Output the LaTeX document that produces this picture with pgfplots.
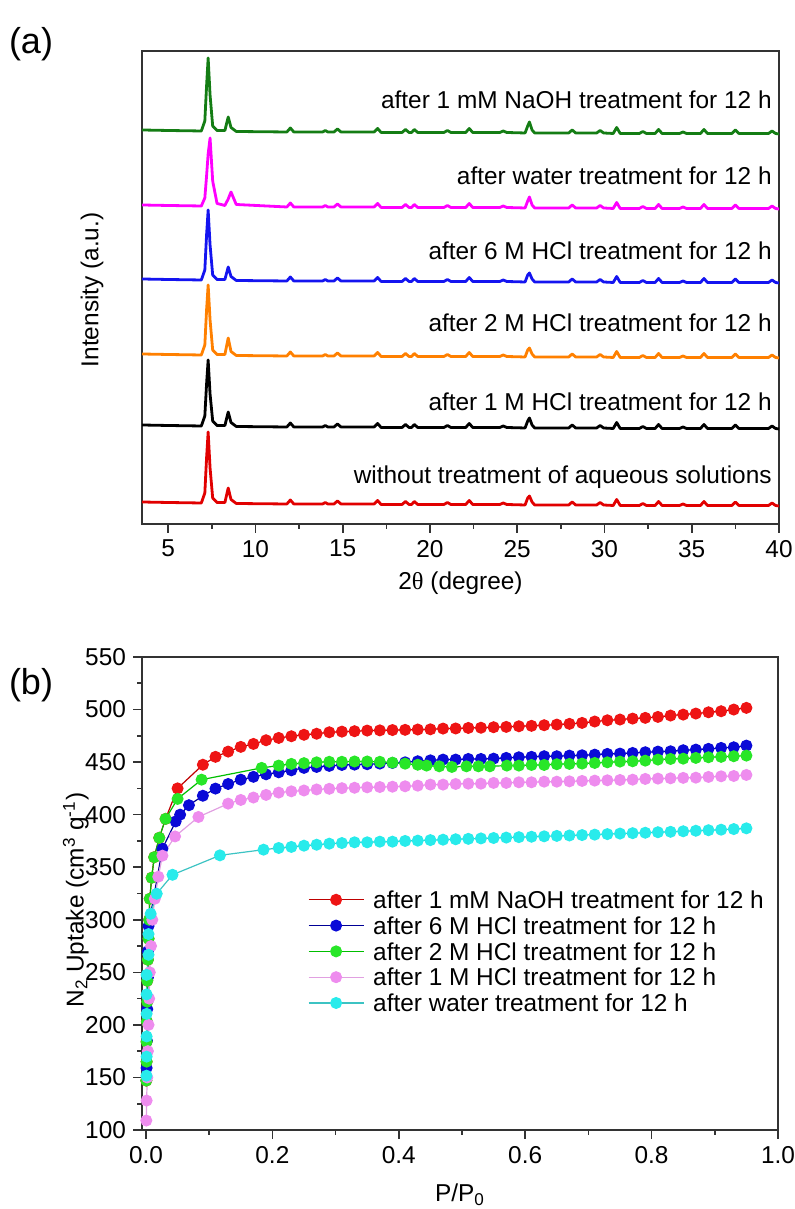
\documentclass[border=0pt]{standalone}
\usepackage{fontspec}
\setmainfont{Liberation Sans}
\newfontfamily\serifgreek{Liberation Serif}
\usepackage{pgfplots}
\usepackage{pgfplotstable}
\pgfplotsset{compat=1.18}

\definecolor{xred}{RGB}{225,0,0}
\definecolor{xorange}{RGB}{255,128,0}
\definecolor{xblue}{RGB}{20,20,240}
\definecolor{xmag}{RGB}{255,0,255}
\definecolor{xgreen}{RGB}{20,125,20}

\definecolor{mred}{RGB}{238,20,20}
\definecolor{lred}{RGB}{190,0,0}
\definecolor{mblue}{RGB}{10,10,215}
\definecolor{lblue}{RGB}{0,0,150}
\definecolor{mgreen}{RGB}{40,230,40}
\definecolor{lgreen}{RGB}{0,190,0}
\definecolor{mviol}{RGB}{238,140,238}
\definecolor{lviol}{RGB}{225,160,225}
\definecolor{mcyan}{RGB}{40,235,235}
\definecolor{lcyan}{RGB}{60,195,195}

% XRD patterns (offset intensities)
\pgfplotstableread{
x r k o b m g
3.5 22 99 170 245 319 394
5.0 21.5 98.5 169.5 244.5 318.5 393.5
6.9 21 98 169 244 318 393
7.1 31 108 179 254 326 403
7.2 66 140 214 289 348 438
7.29 92 164 239 314 370 466
7.4 56 130 204 279 386 429
7.55 26 103 174 249 343 398
7.8 21.5 98.5 169.5 244.5 320.5 393.5
8.25 21.5 98.5 169.5 244.5 318.5 393.5
8.44 36 112 186 257 325 407
8.6 24.5 101.5 172.5 247.5 332 396.5
8.9 20.5 97.5 168.5 243.5 319.5 392.5
11.8 20 97 168 243 317 392
12.0 24 101 172 247 321 396
12.2 20 97 168 243 317 392
13.85 20 97 168 243 317 392
14.0 21.5 98.5 169.5 244.5 318.5 393.5
14.15 20 97 168 243 317 392
14.5 20 97 168 243 317 392
14.7 23 100 171 246 320 395
14.9 20 97 168 243 317 392
16.8 20 97 168 243 317 392
17.0 23.5 100.5 171.5 246.5 320.5 395.5
17.2 19.5 96.5 167.5 242.5 316.5 391.5
18.4 19.5 96.5 167.5 242.5 316.5 391.5
18.6 22.5 99.5 170.5 245.5 319.5 394.5
18.8 19.5 96.5 167.5 242.5 316.5 391.5
18.95 19.5 96.5 167.5 242.5 316.5 391.5
19.1 22.5 99.5 170.5 245.5 319.5 394.5
19.3 19.5 96.5 167.5 242.5 316.5 391.5
20.8 19.5 96.5 167.5 242.5 316.5 391.5
21.0 21.5 98.5 169.5 244.5 318.5 393.5
21.2 19.5 96.5 167.5 242.5 316.5 391.5
22.05 19.5 96.5 167.5 242.5 316.5 391.5
22.25 23.5 100.5 171.5 246.5 320.5 395.5
22.45 19.5 96.5 167.5 242.5 316.5 391.5
24.0 19.5 96.5 167.5 242.5 316.5 391.5
24.2 21 98 169 244 318 393
24.4 19.5 96.5 167.5 242.5 316.5 391.5
25.45 19 96 167 242 316 391
25.6 26 103 174 249 323 398
25.7 28 106 176 251 327 402
25.85 22 99 170 245 319 394
26.0 19 96 167 242 316 391
27.95 19 96 167 242 316 391
28.15 22 99 170 245 319 394
28.35 19 96 167 242 316 391
29.55 19 96 167 242 316 391
29.75 21.5 98.5 169.5 244.5 318.5 393.5
29.95 19 96 167 242 316 391
30.5 18.5 95.5 166.5 241.5 315.5 390.5
30.7 24.5 101.5 172.5 247.5 321.5 396.5
30.9 18.5 95.5 166.5 241.5 315.5 390.5
32.0 18.5 95.5 166.5 241.5 315.5 390.5
32.2 20.5 97.5 168.5 243.5 317.5 392.5
32.4 18.5 95.5 166.5 241.5 315.5 390.5
32.9 18.5 95.5 166.5 241.5 315.5 390.5
33.1 22.5 99.5 170.5 245.5 319.5 394.5
33.3 18.5 95.5 166.5 241.5 315.5 390.5
34.3 18.5 95.5 166.5 241.5 315.5 390.5
34.5 20 97 168 243 317 392
34.7 18.5 95.5 166.5 241.5 315.5 390.5
35.5 18.5 95.5 166.5 241.5 315.5 390.5
35.7 22.5 99.5 170.5 245.5 319.5 394.5
35.9 18.5 95.5 166.5 241.5 315.5 390.5
37.3 18.5 95.5 166.5 241.5 315.5 390.5
37.5 22 99 170 245 319 394
37.7 18.5 95.5 166.5 241.5 315.5 390.5
39.4 18.5 95.5 166.5 241.5 315.5 390.5
39.6 21 98 169 244 318 393
39.8 18.5 95.5 166.5 241.5 315.5 390.5
40.0 18 95 166 241 315 390
}\xrd

% N2 isotherms
\pgfplotstableread{
x y
0.0005 147
0.001 165
0.001 184
0.0015 203
0.002 222
0.002 242
0.003 262
0.004 282
0.005 300
0.006 320
0.009 340
0.013 359.5
0.021 378
0.031 396
0.05 425
0.09 447.5
0.11 455
0.13 460
0.15 464.5
0.17 467.3
0.19 470.8
0.21 473
0.23 474.6
0.25 476
0.27 477
0.29 478.4
0.31 479
0.33 479.4
0.35 480
0.37 480.2
0.39 480.5
0.41 480.7
0.43 481
0.45 481.2
0.47 481.9
0.49 482
0.51 482.5
0.53 482.7
0.55 483.2
0.57 483.5
0.59 484.1
0.61 484.5
0.63 485.1
0.65 485.7
0.67 486.4
0.69 487.3
0.71 488.6
0.73 489.8
0.75 490.5
0.77 491.4
0.79 492.1
0.81 493.0
0.83 494.3
0.85 495.2
0.87 496.2
0.89 497.4
0.91 498.4
0.93 500
0.95 501.6
}\isoR

\pgfplotstableread{
x y
0.001 159
0.0015 185
0.002 215
0.003 245
0.003 270
0.004 294
0.026 367.6
0.047 393.6
0.054 400
0.068 409
0.09 418
0.11 424.8
0.13 429.2
0.15 433.3
0.17 436
0.19 438.4
0.21 440.3
0.23 442.2
0.25 444.5
0.27 445.4
0.29 446.4
0.31 447.3
0.33 447.6
0.35 448
0.37 448.6
0.39 449.2
0.41 449.8
0.43 450.8
0.45 451.7
0.47 452.4
0.49 452.4
0.51 453
0.53 453
0.55 453.3
0.57 454
0.59 454.6
0.61 455
0.63 455.6
0.65 455.6
0.67 456.2
0.69 456.5
0.71 457.1
0.73 457.8
0.75 458.1
0.77 458.7
0.79 459.4
0.81 460
0.83 460.3
0.85 461.3
0.87 461.9
0.89 462.6
0.91 463.5
0.93 464.1
0.95 465.7
}\isoB

\pgfplotstableread{
x y
0.0005 147
0.001 165
0.001 184
0.0015 203
0.002 222
0.002 242
0.003 262
0.004 282
0.005 300
0.006 320
0.009 340
0.013 359.5
0.021 378
0.031 396
0.05 415
0.088 433.3
0.183 444.5
0.21 446.7
0.23 448.3
0.25 449
0.27 449.8
0.29 450.3
0.31 450.3
0.33 450.6
0.35 450.6
0.37 450.3
0.39 449.5
0.41 448.5
0.43 447.5
0.444 446.7
0.464 446
0.484 445.4
0.507 446
0.526 446
0.544 446
0.571 446.7
0.59 446.7
0.61 447.3
0.63 447.3
0.65 448
0.67 448.3
0.69 448.6
0.71 449.2
0.73 449.8
0.75 450.5
0.77 450.8
0.79 451.4
0.81 452.4
0.83 453
0.85 453.3
0.87 454
0.89 454.6
0.91 455
0.93 455.6
0.95 456.2
}\isoG

\pgfplotstableread{
x y
0.0005 109
0.001 128
0.002 150
0.003 175
0.004 200
0.005 225
0.006 250
0.008 275
0.01 300
0.014 320
0.0195 341
0.026 361
0.046 379.3
0.083 397.8
0.13 410.5
0.15 414
0.17 416.3
0.19 418.8
0.21 421
0.23 422.2
0.25 423
0.27 424
0.29 424.6
0.31 425.2
0.33 425.6
0.35 426
0.37 426.3
0.39 426.6
0.41 427
0.43 427.6
0.45 428.6
0.47 428.6
0.49 429.2
0.51 429.5
0.53 429.5
0.55 430.2
0.57 430.2
0.59 430.8
0.61 430.8
0.63 431.4
0.65 431.4
0.67 431.7
0.69 432.1
0.71 432.4
0.73 432.7
0.75 433
0.77 433.3
0.79 434
0.81 434.3
0.83 434.6
0.85 435
0.87 435.2
0.89 435.9
0.91 436.5
0.93 436.8
0.95 437.8
}\isoV

\pgfplotstableread{
x y
0.0008 151.7
0.001 169.8
0.001 189
0.001 210.5
0.001 229
0.001 247.6
0.004 266.7
0.004 286.4
0.0074 305.7
0.017 324.8
0.042 342.8
0.117 361.3
0.186 366.7
0.21 368.3
0.23 369.3
0.25 370.5
0.27 371.4
0.29 372.4
0.31 373
0.33 373.7
0.35 373.7
0.37 374.3
0.39 374.3
0.41 375
0.43 375.3
0.45 375.8
0.47 376.2
0.49 376.6
0.51 377
0.53 377.4
0.55 377.8
0.57 378.2
0.59 378.6
0.61 379
0.63 379.4
0.65 379.8
0.67 380.2
0.69 380.6
0.71 381
0.73 381.5
0.75 382
0.77 382.4
0.79 382.8
0.81 383.3
0.83 383.7
0.85 384.2
0.87 384.7
0.89 385.2
0.91 385.7
0.93 386.3
0.95 387
}\isoC

\pgfplotsset{
  common/.style={
    scale only axis,
    anchor=south west,
    tick align=outside,
    major tick length=4.5pt,
    minor tick length=2.5pt,
    axis line style={line width=0.8pt, black!80},
    every tick/.style={black!80, line width=0.8pt},
    every minor tick/.style={black!80, line width=0.8pt},
    tick label style={font=\fontsize{12.2}{14}\selectfont},
    label style={font=\fontsize{12.2}{14}\selectfont},
    /pgf/number format/assume math mode=true,
  }
}

\begin{document}
\begin{tikzpicture}[font=\fontsize{12.2}{14}\selectfont]
\useasboundingbox (0,0) rectangle (397.5pt,604.5pt);

\node[font=\fontsize{18}{20}\selectfont] at (15.5pt,582.5pt) {(a)};
\node[font=\fontsize{18}{20}\selectfont] at (15.5pt,262pt) {(b)};

% ---------- panel (a)
\begin{axis}[common,
  at={(71pt,342.5pt)}, width=318.5pt, height=236.5pt,
  xmin=3.5, xmax=40, ymin=0, ymax=473,
  xtick={5,10,...,40}, minor x tick num=1,
  ytick=\empty, xtick pos=bottom,
  xlabel={2{\serifgreek θ} (degree)},
  ylabel={Intensity (a.u.)},
  xlabel style={at={(axis description cs:0.5,0)}, anchor=base, yshift=-33pt},
  ylabel style={at={(axis description cs:-0.0785,0.495)}, anchor=center},
  every axis plot/.append style={line width=1.4pt, line join=round, no markers},
]
\addplot[xred] table[x=x,y=r]{\xrd};
\addplot[black] table[x=x,y=k]{\xrd};
\addplot[xorange] table[x=x,y=o]{\xrd};
\addplot[xblue] table[x=x,y=b]{\xrd};
\addplot[xmag] table[x=x,y=m]{\xrd};
\addplot[xgreen] table[x=x,y=g]{\xrd};
\node[anchor=base east, inner sep=0pt] at (axis cs:39.6,415) {after 1 mM NaOH treatment for 12 h};
\node[anchor=base east, inner sep=0pt] at (axis cs:39.6,339) {after water treatment for 12 h};
\node[anchor=base east, inner sep=0pt] at (axis cs:39.6,264) {after 6 M HCl treatment for 12 h};
\node[anchor=base east, inner sep=0pt] at (axis cs:39.6,192) {after 2 M HCl treatment for 12 h};
\node[anchor=base east, inner sep=0pt] at (axis cs:39.6,113) {after 1 M HCl treatment for 12 h};
\node[anchor=base east, inner sep=0pt] at (axis cs:39.6,40) {without treatment of aqueous solutions};
\end{axis}

% ---------- panel (b)
\begin{axis}[common,
  at={(71pt,39.5pt)}, width=318pt, height=236.5pt,
  xmin=-0.0063, xmax=1.0, ymin=100, ymax=550,
  xtick={0,0.2,0.4,0.6,0.8,1.0}, minor x tick num=1,
  ytick={100,150,...,550}, minor y tick num=1,
  xtick pos=bottom, ytick pos=left,
  xticklabel style={/pgf/number format/fixed, /pgf/number format/fixed zerofill, /pgf/number format/precision=1},
  xlabel={P/P\textsubscript{0}},
  ylabel={N\textsubscript{2} Uptake (cm\textsuperscript{3} g\textsuperscript{-1})},
  xlabel style={at={(axis description cs:0.5,0)}, anchor=base, yshift=-36pt},
  ylabel style={at={(axis description cs:-0.104,0.486)}, anchor=center},
  legend image code/.code={\draw[mark repeat=2,mark phase=2,#1] plot coordinates {(0pt,0pt) (13.75pt,0pt) (27.5pt,0pt)};},
  legend style={at={(0.261,0.514)}, anchor=north west, draw=none, fill=none,
    inner sep=0pt, outer sep=0pt, column sep=4.5pt, row sep=0pt,
    nodes={inner sep=0pt, text height=10.85pt, text depth=2.05pt},
    font=\fontsize{12.2}{14}\selectfont},
  legend cell align=left,
  every axis plot/.append style={line width=0.6pt, mark=*, mark size=2.7pt},
]
\addplot[lred, mark options={fill=mred, draw=mred}] table[x=x,y=y]{\isoR};
\addlegendentry{after 1 mM NaOH treatment for 12 h}
\addplot[lblue, mark options={fill=mblue, draw=mblue}] table[x=x,y=y]{\isoB};
\addlegendentry{after 6 M HCl treatment for 12 h}
\addplot[lgreen, mark options={fill=mgreen, draw=mgreen}] table[x=x,y=y]{\isoG};
\addlegendentry{after 2 M HCl treatment for 12 h}
\addplot[lviol, mark options={fill=mviol, draw=mviol}] table[x=x,y=y]{\isoV};
\addlegendentry{after 1 M HCl treatment for 12 h}
\addplot[lcyan, mark options={fill=mcyan, draw=mcyan}] table[x=x,y=y]{\isoC};
\addlegendentry{after water treatment for 12 h}
\end{axis}
\end{tikzpicture}
\end{document}
